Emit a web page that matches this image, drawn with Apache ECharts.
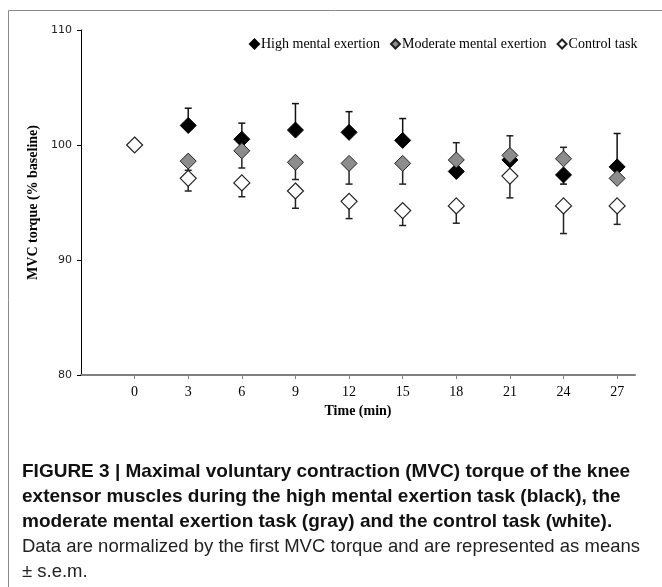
<!DOCTYPE html>
<html>
<head>
<meta charset="utf-8">
<script src="https://cdn.jsdelivr.net/npm/echarts@6/dist/echarts.min.js"></script>
<style>
  html, body { margin: 0; padding: 0; background: #fff; }
  #chart { width: 662px; height: 587px; }
</style>
</head>
<body>
<div id="chart"></div>
<script>
// ---- data ----
const xTicks = [0, 3, 6, 9, 12, 15, 18, 21, 24, 27];
const yTicks = [80, 90, 100, 110];

const seriesNames = ['High mental exertion', 'Moderate mental exertion', 'Control task'];

const highX = [3, 6, 9, 12, 15, 18, 21, 24, 27];
const highMean = [101.7, 100.5, 101.3, 101.1, 100.4, 97.7, 98.7, 97.4, 98.1];
const highErrUp = [1.5, 1.4, 2.3, 1.8, 1.9, 0, 0, 0, 2.9];
const highErrDown = [0, 0, 0, 0, 0, 0, 0, 0.8, 0];

const modX = [3, 6, 9, 12, 15, 18, 21, 24, 27];
const modMean = [98.6, 99.5, 98.5, 98.4, 98.4, 98.7, 99.1, 98.8, 97.1];
const modErrUp = [0, 0, 0, 0, 0, 1.5, 1.7, 1.0, 0];
const modErrDown = [0.8, 1.5, 1.5, 1.8, 1.8, 0, 0, 0, 0];

const ctrlX = [0, 3, 6, 9, 12, 15, 18, 21, 24, 27];
const ctrlMean = [100, 97.1, 96.7, 96.0, 95.1, 94.3, 94.7, 97.3, 94.7, 94.7];
const ctrlErrUp = [0, 0, 0, 0, 0, 0, 0, 0, 0, 0];
const ctrlErrDown = [0, 1.1, 1.2, 1.5, 1.5, 1.3, 1.5, 1.9, 2.4, 1.6];

const captionBold = [
  'FIGURE 3 | Maximal voluntary contraction (MVC) torque of the knee',
  'extensor muscles during the high mental exertion task (black), the',
  'moderate mental exertion task (gray) and the control task (white).'
];
const captionRegular = [
  'Data are normalized by the first MVC torque and are represented as means',
  '\u00B1 s.e.m.'
];

// ---- build ----
function points(xs, ms) { return xs.map((x, i) => [x, ms[i]]); }
function errData(xs, ms, up, down) {
  return xs.map((x, i) => [x, ms[i], ms[i] - down[i], ms[i] + up[i]]);
}
function errSeries(data, color) {
  return {
    type: 'custom',
    silent: true,
    z: 1,
    data: data,
    encode: { x: 0, y: [2, 3] },
    renderItem: function (params, api) {
      const x = api.value(0), m = api.value(1), lo = api.value(2), hi = api.value(3);
      const pLo = api.coord([x, lo]);
      const pHi = api.coord([x, hi]);
      const cw = 3.5;
      const children = [];
      if (hi - lo <= 0) return { type: 'group', children: [] };
      children.push({ type: 'line', shape: { x1: pLo[0], y1: pLo[1], x2: pHi[0], y2: pHi[1] },
        style: { stroke: color, lineWidth: 1.5 } });
      if (lo < m) children.push({ type: 'line', shape: { x1: pLo[0] - cw, y1: pLo[1], x2: pLo[0] + cw, y2: pLo[1] },
        style: { stroke: color, lineWidth: 1.5 } });
      if (hi > m) children.push({ type: 'line', shape: { x1: pHi[0] - cw, y1: pHi[1], x2: pHi[0] + cw, y2: pHi[1] },
        style: { stroke: color, lineWidth: 1.5 } });
      return { type: 'group', children: children };
    }
  };
}

const serif = 'Liberation Serif, Times New Roman, serif';
const chart = echarts.init(document.getElementById('chart'), null, { renderer: 'canvas' });

const graphics = [
  { type: 'polyline', silent: true, shape: { points: [[8.5, 600], [8.5, 10.5], [700, 10.5]] },
    style: { stroke: '#8a8a8a', lineWidth: 1, fill: null } }
];
const capTop = 473;
captionBold.forEach((t, i) => graphics.push({
  type: 'text', left: 22, top: capTop - 11 + i * 25,
  style: { text: t, font: 'bold 19px "Liberation Sans", Arial, sans-serif', fill: '#111' }
}));
captionRegular.forEach((t, i) => graphics.push({
  type: 'text', left: 22, top: capTop - 11 + (i + 3) * 25,
  style: { text: t, font: '18.5px "Liberation Sans", Arial, sans-serif', fill: '#222' }
}));

chart.setOption({
  animation: false,
  backgroundColor: '#fff',
  grid: { left: 81, right: 27, top: 30, bottom: 212, containLabel: false },
  legend: {
    data: seriesNames,
    left: 244, top: 32,
    itemWidth: 9, itemHeight: 9, itemGap: 10,
    icon: 'diamond',
    textStyle: { fontFamily: serif, fontSize: 14, color: '#000', padding: [0, 0, 0, -3] }
  },
  xAxis: {
    type: 'value', min: -3, max: 28,
    name: 'Time (min)', nameLocation: 'middle', nameGap: 26,
    nameTextStyle: { fontFamily: serif, fontSize: 14, fontWeight: 'bold', color: '#000' },
    axisLine: { show: true, onZero: false, lineStyle: { color: '#808080', width: 2 } },
    axisTick: { show: true, length: 4, customValues: xTicks, lineStyle: { color: '#808080', width: 1 } },
    axisLabel: { customValues: xTicks, fontFamily: serif, fontSize: 14, color: '#000', margin: 10 },
    splitLine: { show: false }
  },
  yAxis: {
    type: 'value', min: 80, max: 110, interval: 10,
    name: 'MVC torque (% baseline)', nameLocation: 'middle', nameGap: 34,
    nameTextStyle: { fontFamily: serif, fontSize: 14, fontWeight: 'bold', color: '#000' },
    axisLine: { show: true, onZero: false, lineStyle: { color: '#000', width: 1 } },
    axisTick: { show: true, length: 4, lineStyle: { color: '#000' } },
    axisLabel: { fontFamily: 'DejaVu Sans, sans-serif', fontSize: 11, color: '#222', margin: 9 },
    splitLine: { show: false }
  },
  graphic: graphics,
  series: [
    errSeries(errData(highX, highMean, highErrUp, highErrDown), '#111'),
    errSeries(errData(modX, modMean, modErrUp, modErrDown), '#222'),
    errSeries(errData(ctrlX, ctrlMean, ctrlErrUp, ctrlErrDown), '#222'),
    { name: seriesNames[0], type: 'scatter', z: 3, symbol: 'diamond', symbolSize: 16,
      data: points(highX, highMean), itemStyle: { color: '#000', borderColor: '#000', borderWidth: 1, opacity: 1 } },
    { name: seriesNames[1], type: 'scatter', z: 4, symbol: 'diamond', symbolSize: 16,
      data: points(modX, modMean), itemStyle: { color: '#8c8c8c', borderColor: '#222', borderWidth: 1, opacity: 1 } },
    { name: seriesNames[2], type: 'scatter', z: 5, symbol: 'diamond', symbolSize: 16,
      data: points(ctrlX, ctrlMean), itemStyle: { color: '#fff', borderColor: '#222', borderWidth: 1.2, opacity: 1 } }
  ]
});
</script>
</body>
</html>
